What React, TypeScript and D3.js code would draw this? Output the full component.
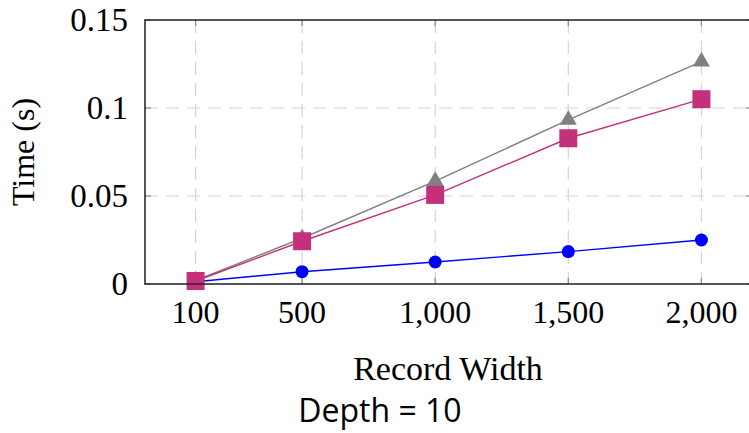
import React, { useEffect, useRef } from 'react'
import * as d3 from 'd3'

const widths = [100, 500, 1000, 1500, 2000]
const blueTimes = [0.0013, 0.007, 0.0125, 0.0184, 0.025]
const grayTimes = [0.002, 0.026, 0.0585, 0.0932, 0.1264]
const magentaTimes = [0.0017, 0.0243, 0.0506, 0.0828, 0.105]
const xTicks = [100, 500, 1000, 1500, 2000]
const yTicks = [0, 0.05, 0.1, 0.15]

const W = 749
const H = 433
const serif = '"Liberation Serif", "DejaVu Serif", serif'

const App = () => {
  const ref = useRef<SVGSVGElement>(null)

  useEffect(() => {
    const svg = d3.select(ref.current)
    svg.selectAll('*').remove()

    const left = 145
    const right = 752
    const top = 20
    const bottom = 284

    // x scale, enlarged 10% on both sides
    const pad = (2000 - 100) * 0.1
    const x = d3.scaleLinear().domain([100 - pad, 2000 + pad]).range([left, right])
    const y = d3.scaleLinear().domain([0, 0.15]).range([bottom, top])

    // grid
    const grid = svg.append('g').attr('stroke', '#d4d4d4').attr('stroke-width', 1.2).attr('stroke-dasharray', '13,8')
    grid.selectAll('.gx').data(xTicks).enter().append('line')
      .attr('x1', (d) => x(d)).attr('x2', (d) => x(d)).attr('y1', top).attr('y2', bottom)
    grid.selectAll('.gy').data(yTicks.slice(1, -1)).enter().append('line')
      .attr('x1', left).attr('x2', right).attr('y1', (d) => y(d)).attr('y2', (d) => y(d))

    // ticks, inside, on all sides
    const ticks = svg.append('g').attr('stroke', '#8a8a8a').attr('stroke-width', 1.2)
    xTicks.forEach((t) => {
      ticks.append('line').attr('x1', x(t)).attr('x2', x(t)).attr('y1', bottom).attr('y2', bottom - 6)
      ticks.append('line').attr('x1', x(t)).attr('x2', x(t)).attr('y1', top).attr('y2', top + 6)
    })
    yTicks.forEach((t) => {
      ticks.append('line').attr('x1', left).attr('x2', left + 6).attr('y1', y(t)).attr('y2', y(t))
      ticks.append('line').attr('x1', right).attr('x2', right - 6).attr('y1', y(t)).attr('y2', y(t))
    })

    // series
    const series = [
      { values: blueTimes, color: '#0000ff', shape: d3.symbolCircle, size: 133 },
      { values: grayTimes, color: '#808080', shape: d3.symbolTriangle, size: 125 },
      { values: magentaTimes, color: '#c4317a', shape: d3.symbolSquare, size: 324 },
    ]
    const line = d3.line<number>().x((d, i) => x(widths[i])).y((d) => y(d))

    series.forEach((s) => {
      svg.append('path')
        .datum(s.values)
        .attr('d', line)
        .attr('fill', 'none')
        .attr('stroke', s.color)
        .attr('stroke-width', 1.4)
      svg.selectAll(null)
        .data(s.values)
        .enter()
        .append('path')
        .attr('d', d3.symbol().type(s.shape).size(s.size)())
        .attr('transform', (d, i) => `translate(${x(widths[i])},${y(d)})`)
        .attr('fill', s.color)
    })

    // axis box
    svg.append('rect')
      .attr('x', left).attr('y', top).attr('width', right - left).attr('height', bottom - top)
      .attr('fill', 'none').attr('stroke', '#2b2b2b').attr('stroke-width', 1.6)

    // x tick labels
    svg.append('g').selectAll('text')
      .data(xTicks)
      .enter()
      .append('text')
      .text((d) => d3.format(',')(d))
      .attr('x', (d) => x(d))
      .attr('y', 323)
      .attr('text-anchor', 'middle')
      .attr('font-family', serif)
      .attr('font-size', 32)

    // y tick labels
    svg.append('g').selectAll('text')
      .data(yTicks)
      .enter()
      .append('text')
      .text((d) => String(d))
      .attr('x', 128)
      .attr('y', (d) => y(d) + 11)
      .attr('text-anchor', 'end')
      .attr('font-family', serif)
      .attr('font-size', 33)

    // axis titles
    svg.append('text')
      .text('Record Width')
      .attr('x', 448)
      .attr('y', 380)
      .attr('text-anchor', 'middle')
      .attr('font-family', serif)
      .attr('font-size', 34)

    svg.append('text')
      .text('Time (s)')
      .attr('transform', `translate(34, ${(top + bottom) / 2}) rotate(-90)`)
      .attr('text-anchor', 'middle')
      .attr('font-family', serif)
      .attr('font-size', 32)

    svg.append('text')
      .text('Depth = 10')
      .attr('x', 380)
      .attr('y', 422)
      .attr('text-anchor', 'middle')
      .attr('font-family', '"Open Sans", sans-serif')
      .attr('font-size', 32)
  }, [])

  return (
    <svg
      ref={ref}
      width={W}
      height={H}
      style={{ position: 'absolute', left: 0, top: 0, background: 'white' }}
    />
  )
}

export default App
